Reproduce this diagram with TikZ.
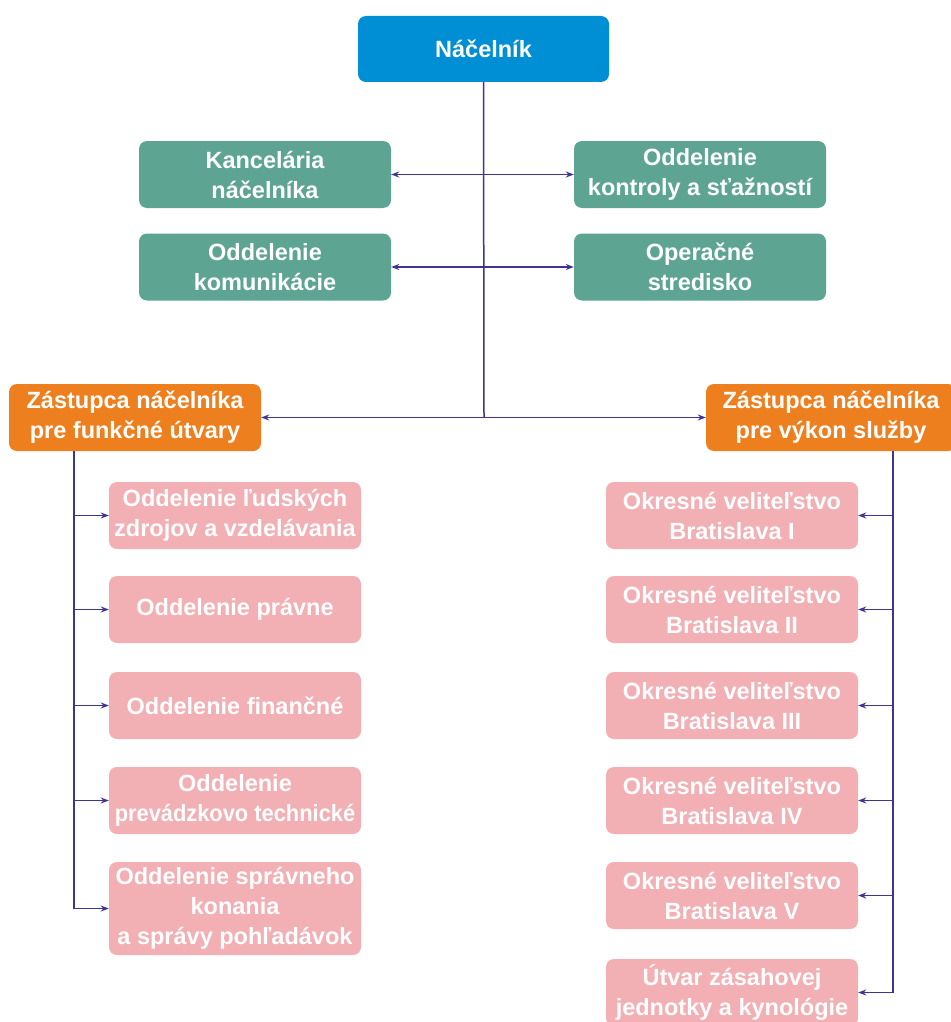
\documentclass[tikz,border=0pt]{standalone}
\usepackage{fontspec}
\setmainfont{Liberation Sans}
\usetikzlibrary{arrows.meta}
\definecolor{cblue}{RGB}{0,142,213}
\definecolor{cgreen}{RGB}{93,165,146}
\definecolor{corange}{RGB}{238,127,30}
\definecolor{cpink}{RGB}{242,175,180}
\definecolor{cline}{RGB}{61,52,148}
\tikzset{
  box/.style={rounded corners=8pt, minimum width=252pt, minimum height=67pt, inner sep=0pt, align=center, text=white,
    font=\fontsize{23.5}{30}\selectfont\bfseries},
  bluebox/.style={box, fill=cblue, minimum width=251pt, minimum height=66pt},
  greenbox/.style={box, fill=cgreen},
  orangebox/.style={box, fill=corange},
  pinkbox/.style={box, fill=cpink},
  conn/.style={draw=cline, line width=1.5pt},
  arr/.style={conn, -{Stealth[length=8pt,width=6pt]}}
}
\begin{document}
\begin{tikzpicture}[x=1pt,y=-1pt]
\useasboundingbox[fill=white] (0,0) rectangle (950,1022);
% nodes
\node[bluebox] (nac) at (483.5,49) {Náčelník};
\node[greenbox] (kanc) at (265,174.5) {Kancelária\\náčelníka};
\node[greenbox] (kom) at (265,267) {Oddelenie\\komunikácie};
\node[greenbox] (kontr) at (700,174.5) {Oddelenie\\kontroly a sťažností};
\node[greenbox] (oper) at (700,267) {Operačné\\stredisko};
\node[orangebox] (zl) at (135,417.5) {Zástupca náčelníka\\pre funkčné útvary};
\node[orangebox, minimum width=250pt] (zr) at (831,417.5) {Zástupca náčelníka\\pre výkon služby};
\node[pinkbox] (l1) at (235,515.5) {Oddelenie ľudských\\zdrojov a vzdelávania};
\node[pinkbox] (l2) at (235,609.5) {Oddelenie právne};
\node[pinkbox] (l3) at (235,705.5) {Oddelenie finančné};
\node[pinkbox] (l4) at (235,800.5) {Oddelenie\\\scalebox{0.93}[1]{prevádzkovo technické}};
\node[pinkbox, minimum height=93pt] (l5) at (235,908.5) {Oddelenie správneho\\konania\\a správy pohľadávok};
\node[pinkbox] (r1) at (732,515.5) {Okresné veliteľstvo\\Bratislava I};
\node[pinkbox] (r2) at (732,609.5) {Okresné veliteľstvo\\Bratislava II};
\node[pinkbox] (r3) at (732,705.5) {Okresné veliteľstvo\\Bratislava III};
\node[pinkbox] (r4) at (732,800.5) {Okresné veliteľstvo\\Bratislava IV};
\node[pinkbox] (r5) at (732,895.5) {Okresné veliteľstvo\\Bratislava V};
\node[pinkbox] (r6) at (732,992.5) {Útvar zásahovej\\jednotky a kynológie};
% connectors
\coordinate (m1) at (484,174.5);
\coordinate (m2) at (484,267);
\coordinate (j) at (484,417.5);
\draw[conn] (nac.south) -- (j);
\draw[arr] (m1) -- (kanc.east);
\draw[arr] (m1) -- (kontr.west);
\draw[arr] (m2) -- (kom.east);
\draw[arr] (m2) -- (oper.west);
\draw[arr] (j) -- (zl.east);
\draw[arr] (j) -- (zr.west);
% left trunk
\coordinate (lt) at (74,451);
\coordinate (lb) at (74,909);
\draw[conn] (lt) -- (lb);
\foreach \n in {l1,l2,l3,l4,l5} \draw[arr] (lt |- \n) -- (\n.west);
% right trunk
\coordinate (rt) at (893,451);
\coordinate (rb) at (893,992.5);
\draw[conn] (rt) -- (rb);
\foreach \n in {r1,r2,r3,r4,r5,r6} \draw[arr] (rt |- \n) -- (\n.east);
\end{tikzpicture}
\end{document}
